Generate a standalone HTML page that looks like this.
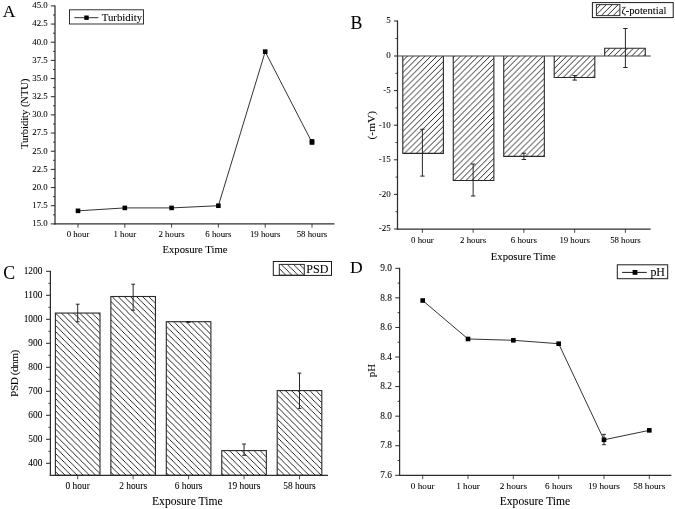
<!DOCTYPE html>
<html><head><meta charset="utf-8"><title>Figure</title>
<style>
html,body{margin:0;padding:0;background:#fff;}
body{width:675px;height:509px;overflow:hidden;font-family:"Liberation Serif",serif;}
svg{display:block;will-change:transform;}
svg text{font-family:"Liberation Serif",serif;fill:#000;stroke:#000;stroke-width:0.07px;}
</style></head><body>
<svg width="675" height="509" viewBox="0 0 675 509">
<defs>
<pattern id="hf" patternUnits="userSpaceOnUse" width="5.9" height="5.9" x="3.3" y="0">
<path d="M-1,1 L1,-1 M-1,6.9 L6.9,-1 M4.9,6.9 L6.9,4.9" stroke="#000" stroke-width="0.85" fill="none"/>
</pattern>
<pattern id="hb" patternUnits="userSpaceOnUse" width="6.1" height="6.1" x="4.6" y="0">
<path d="M-1,-1 L7.1,7.1 M-1,5.1 L1,7.1 M5.1,-1 L7.1,1" stroke="#000" stroke-width="0.85" fill="none"/>
</pattern>
</defs>
<text x="2.80" y="17.00" font-size="17.6" text-anchor="start">A</text>
<line x1="55.00" y1="5.39" x2="55.00" y2="224.50" stroke="#2e2e2e" stroke-width="1.25"/>
<line x1="50.80" y1="223.90" x2="55.00" y2="223.90" stroke="#1c1c1c" stroke-width="0.95"/>
<text x="47.70" y="226.32" font-size="8.8" text-anchor="end">15.0</text>
<line x1="50.80" y1="205.73" x2="55.00" y2="205.73" stroke="#1c1c1c" stroke-width="0.95"/>
<text x="47.70" y="208.16" font-size="8.8" text-anchor="end">17.5</text>
<line x1="50.80" y1="187.56" x2="55.00" y2="187.56" stroke="#1c1c1c" stroke-width="0.95"/>
<text x="47.70" y="189.99" font-size="8.8" text-anchor="end">20.0</text>
<line x1="50.80" y1="169.40" x2="55.00" y2="169.40" stroke="#1c1c1c" stroke-width="0.95"/>
<text x="47.70" y="171.82" font-size="8.8" text-anchor="end">22.5</text>
<line x1="50.80" y1="151.23" x2="55.00" y2="151.23" stroke="#1c1c1c" stroke-width="0.95"/>
<text x="47.70" y="153.65" font-size="8.8" text-anchor="end">25.0</text>
<line x1="50.80" y1="133.06" x2="55.00" y2="133.06" stroke="#1c1c1c" stroke-width="0.95"/>
<text x="47.70" y="135.49" font-size="8.8" text-anchor="end">27.5</text>
<line x1="50.80" y1="114.89" x2="55.00" y2="114.89" stroke="#1c1c1c" stroke-width="0.95"/>
<text x="47.70" y="117.32" font-size="8.8" text-anchor="end">30.0</text>
<line x1="50.80" y1="96.73" x2="55.00" y2="96.73" stroke="#1c1c1c" stroke-width="0.95"/>
<text x="47.70" y="99.15" font-size="8.8" text-anchor="end">32.5</text>
<line x1="50.80" y1="78.56" x2="55.00" y2="78.56" stroke="#1c1c1c" stroke-width="0.95"/>
<text x="47.70" y="80.98" font-size="8.8" text-anchor="end">35.0</text>
<line x1="50.80" y1="60.39" x2="55.00" y2="60.39" stroke="#1c1c1c" stroke-width="0.95"/>
<text x="47.70" y="62.82" font-size="8.8" text-anchor="end">37.5</text>
<line x1="50.80" y1="42.22" x2="55.00" y2="42.22" stroke="#1c1c1c" stroke-width="0.95"/>
<text x="47.70" y="44.65" font-size="8.8" text-anchor="end">40.0</text>
<line x1="50.80" y1="24.06" x2="55.00" y2="24.06" stroke="#1c1c1c" stroke-width="0.95"/>
<text x="47.70" y="26.48" font-size="8.8" text-anchor="end">42.5</text>
<line x1="50.80" y1="5.89" x2="55.00" y2="5.89" stroke="#1c1c1c" stroke-width="0.95"/>
<text x="47.70" y="8.31" font-size="8.8" text-anchor="end">45.0</text>
<line x1="53.00" y1="214.82" x2="55.00" y2="214.82" stroke="#1c1c1c" stroke-width="0.85"/>
<line x1="53.00" y1="196.65" x2="55.00" y2="196.65" stroke="#1c1c1c" stroke-width="0.85"/>
<line x1="53.00" y1="178.48" x2="55.00" y2="178.48" stroke="#1c1c1c" stroke-width="0.85"/>
<line x1="53.00" y1="160.31" x2="55.00" y2="160.31" stroke="#1c1c1c" stroke-width="0.85"/>
<line x1="53.00" y1="142.15" x2="55.00" y2="142.15" stroke="#1c1c1c" stroke-width="0.85"/>
<line x1="53.00" y1="123.98" x2="55.00" y2="123.98" stroke="#1c1c1c" stroke-width="0.85"/>
<line x1="53.00" y1="105.81" x2="55.00" y2="105.81" stroke="#1c1c1c" stroke-width="0.85"/>
<line x1="53.00" y1="87.64" x2="55.00" y2="87.64" stroke="#1c1c1c" stroke-width="0.85"/>
<line x1="53.00" y1="69.48" x2="55.00" y2="69.48" stroke="#1c1c1c" stroke-width="0.85"/>
<line x1="53.00" y1="51.31" x2="55.00" y2="51.31" stroke="#1c1c1c" stroke-width="0.85"/>
<line x1="53.00" y1="33.14" x2="55.00" y2="33.14" stroke="#1c1c1c" stroke-width="0.85"/>
<line x1="53.00" y1="14.97" x2="55.00" y2="14.97" stroke="#1c1c1c" stroke-width="0.85"/>
<line x1="54.40" y1="223.90" x2="334.50" y2="223.90" stroke="#2e2e2e" stroke-width="1.25"/>
<line x1="78.00" y1="223.90" x2="78.00" y2="227.70" stroke="#1c1c1c" stroke-width="0.8"/>
<text x="78.00" y="237.10" font-size="8.8" text-anchor="middle">0 hour</text>
<line x1="124.80" y1="223.90" x2="124.80" y2="227.70" stroke="#1c1c1c" stroke-width="0.8"/>
<text x="124.80" y="237.10" font-size="8.8" text-anchor="middle">1 hour</text>
<line x1="171.60" y1="223.90" x2="171.60" y2="227.70" stroke="#1c1c1c" stroke-width="0.8"/>
<text x="171.60" y="237.10" font-size="8.8" text-anchor="middle">2 hours</text>
<line x1="218.40" y1="223.90" x2="218.40" y2="227.70" stroke="#1c1c1c" stroke-width="0.8"/>
<text x="218.40" y="237.10" font-size="8.8" text-anchor="middle">6 hours</text>
<line x1="265.20" y1="223.90" x2="265.20" y2="227.70" stroke="#1c1c1c" stroke-width="0.8"/>
<text x="265.20" y="237.10" font-size="8.8" text-anchor="middle">19 hours</text>
<line x1="312.00" y1="223.90" x2="312.00" y2="227.70" stroke="#1c1c1c" stroke-width="0.8"/>
<text x="312.00" y="237.10" font-size="8.8" text-anchor="middle">58 hours</text>
<text x="195.00" y="253.30" font-size="10.7" text-anchor="middle">Exposure Time</text>
<text x="28.10" y="113.80" font-size="10.5" text-anchor="middle" transform="rotate(-90 28.10 113.80)">Turbidity (NTU)</text>
<polyline points="78.00,210.82 124.80,207.91 171.60,207.91 218.40,205.73 265.20,51.67 312.00,142.51" fill="none" stroke="#1c1c1c" stroke-width="0.9"/>
<rect x="75.70" y="208.52" width="4.6" height="4.6" fill="#000"/>
<rect x="122.50" y="205.61" width="4.6" height="4.6" fill="#000"/>
<rect x="169.30" y="205.61" width="4.6" height="4.6" fill="#000"/>
<rect x="216.10" y="203.43" width="4.6" height="4.6" fill="#000"/>
<rect x="262.90" y="49.37" width="4.6" height="4.6" fill="#000"/>
<rect x="309.70" y="140.21" width="4.6" height="4.6" fill="#000"/>
<rect x="309.70" y="139.12" width="4.6" height="4.6" fill="#000"/>
<rect x="69.5" y="9.8" width="74" height="14.2" fill="#fff" stroke="#1c1c1c" stroke-width="0.9"/>
<line x1="74.30" y1="17.70" x2="98.30" y2="17.70" stroke="#1c1c1c" stroke-width="0.9"/>
<rect x="84.30" y="15.50" width="4.4" height="4.4" fill="#000"/>
<text x="101.70" y="21.10" font-size="10.8" text-anchor="start">Turbidity</text>
<text x="350.50" y="28.90" font-size="17.8" text-anchor="start">B</text>
<line x1="397.50" y1="20.50" x2="397.50" y2="229.60" stroke="#2e2e2e" stroke-width="1.25"/>
<line x1="394.00" y1="21.00" x2="397.50" y2="21.00" stroke="#1c1c1c" stroke-width="0.95"/>
<text x="390.70" y="23.49" font-size="9.0" text-anchor="end">5</text>
<line x1="394.00" y1="56.00" x2="397.50" y2="56.00" stroke="#1c1c1c" stroke-width="0.95"/>
<text x="390.70" y="58.49" font-size="9.0" text-anchor="end">0</text>
<line x1="394.00" y1="90.60" x2="397.50" y2="90.60" stroke="#1c1c1c" stroke-width="0.95"/>
<text x="390.70" y="93.09" font-size="9.0" text-anchor="end">-5</text>
<line x1="394.00" y1="125.20" x2="397.50" y2="125.20" stroke="#1c1c1c" stroke-width="0.95"/>
<text x="390.70" y="127.69" font-size="9.0" text-anchor="end">-10</text>
<line x1="394.00" y1="159.80" x2="397.50" y2="159.80" stroke="#1c1c1c" stroke-width="0.95"/>
<text x="390.70" y="162.29" font-size="9.0" text-anchor="end">-15</text>
<line x1="394.00" y1="194.40" x2="397.50" y2="194.40" stroke="#1c1c1c" stroke-width="0.95"/>
<text x="390.70" y="196.89" font-size="9.0" text-anchor="end">-20</text>
<line x1="394.00" y1="229.00" x2="397.50" y2="229.00" stroke="#1c1c1c" stroke-width="0.95"/>
<text x="390.70" y="231.49" font-size="9.0" text-anchor="end">-25</text>
<line x1="395.50" y1="38.50" x2="397.50" y2="38.50" stroke="#1c1c1c" stroke-width="0.85"/>
<line x1="395.50" y1="73.30" x2="397.50" y2="73.30" stroke="#1c1c1c" stroke-width="0.85"/>
<line x1="395.50" y1="107.90" x2="397.50" y2="107.90" stroke="#1c1c1c" stroke-width="0.85"/>
<line x1="395.50" y1="142.50" x2="397.50" y2="142.50" stroke="#1c1c1c" stroke-width="0.85"/>
<line x1="395.50" y1="177.10" x2="397.50" y2="177.10" stroke="#1c1c1c" stroke-width="0.85"/>
<line x1="395.50" y1="211.70" x2="397.50" y2="211.70" stroke="#1c1c1c" stroke-width="0.85"/>
<line x1="396.90" y1="229.00" x2="650.60" y2="229.00" stroke="#2e2e2e" stroke-width="1.25"/>
<line x1="422.40" y1="229.00" x2="422.40" y2="232.80" stroke="#1c1c1c" stroke-width="0.8"/>
<text x="422.40" y="242.80" font-size="8.8" text-anchor="middle">0 hour</text>
<line x1="473.15" y1="229.00" x2="473.15" y2="232.80" stroke="#1c1c1c" stroke-width="0.8"/>
<text x="473.15" y="242.80" font-size="8.8" text-anchor="middle">2 hours</text>
<line x1="523.90" y1="229.00" x2="523.90" y2="232.80" stroke="#1c1c1c" stroke-width="0.8"/>
<text x="523.90" y="242.80" font-size="8.8" text-anchor="middle">6 hours</text>
<line x1="574.65" y1="229.00" x2="574.65" y2="232.80" stroke="#1c1c1c" stroke-width="0.8"/>
<text x="574.65" y="242.80" font-size="8.8" text-anchor="middle">19 hours</text>
<line x1="625.40" y1="229.00" x2="625.40" y2="232.80" stroke="#1c1c1c" stroke-width="0.8"/>
<text x="625.40" y="242.80" font-size="8.8" text-anchor="middle">58 hours</text>
<text x="523.30" y="259.60" font-size="10.7" text-anchor="middle">Exposure Time</text>
<text x="374.60" y="125.20" font-size="11.4" text-anchor="middle" transform="rotate(-90 374.60 125.20)">(-mV)</text>
<rect x="402.80" y="56.00" width="40.60" height="97.36" fill="url(#hf)" stroke="none"/>
<path d="M402.80,56.00 V153.36 H443.40 V56.00" fill="none" stroke="#2a2a2a" stroke-width="1.1"/>
<rect x="453.27" y="56.00" width="40.60" height="124.56" fill="url(#hf)" stroke="none"/>
<path d="M453.27,56.00 V180.56 H493.87 V56.00" fill="none" stroke="#2a2a2a" stroke-width="1.1"/>
<rect x="503.74" y="56.00" width="40.60" height="100.34" fill="url(#hf)" stroke="none"/>
<path d="M503.74,56.00 V156.34 H544.34 V56.00" fill="none" stroke="#2a2a2a" stroke-width="1.1"/>
<rect x="554.21" y="56.00" width="40.60" height="21.45" fill="url(#hf)" stroke="none"/>
<path d="M554.21,56.00 V77.45 H594.81 V56.00" fill="none" stroke="#2a2a2a" stroke-width="1.1"/>
<rect x="604.68" y="48.30" width="40.60" height="7.70" fill="url(#hf)" stroke="none"/>
<path d="M604.68,56.00 V48.30 H645.28 V56.00" fill="none" stroke="#2a2a2a" stroke-width="1.1"/>
<line x1="397.50" y1="56.00" x2="650.80" y2="56.00" stroke="#444" stroke-width="1.2"/>
<line x1="422.40" y1="129.30" x2="422.40" y2="176.10" stroke="#1c1c1c" stroke-width="0.95"/>
<line x1="420.20" y1="129.30" x2="424.60" y2="129.30" stroke="#1c1c1c" stroke-width="0.95"/>
<line x1="420.20" y1="176.10" x2="424.60" y2="176.10" stroke="#1c1c1c" stroke-width="0.95"/>
<line x1="473.15" y1="164.00" x2="473.15" y2="196.00" stroke="#1c1c1c" stroke-width="0.95"/>
<line x1="470.95" y1="164.00" x2="475.35" y2="164.00" stroke="#1c1c1c" stroke-width="0.95"/>
<line x1="470.95" y1="196.00" x2="475.35" y2="196.00" stroke="#1c1c1c" stroke-width="0.95"/>
<line x1="523.90" y1="153.20" x2="523.90" y2="159.50" stroke="#1c1c1c" stroke-width="0.95"/>
<line x1="521.70" y1="153.20" x2="526.10" y2="153.20" stroke="#1c1c1c" stroke-width="0.95"/>
<line x1="521.70" y1="159.50" x2="526.10" y2="159.50" stroke="#1c1c1c" stroke-width="0.95"/>
<line x1="574.65" y1="75.60" x2="574.65" y2="80.10" stroke="#1c1c1c" stroke-width="0.95"/>
<line x1="572.45" y1="75.60" x2="576.85" y2="75.60" stroke="#1c1c1c" stroke-width="0.95"/>
<line x1="572.45" y1="80.10" x2="576.85" y2="80.10" stroke="#1c1c1c" stroke-width="0.95"/>
<line x1="625.40" y1="28.50" x2="625.40" y2="67.50" stroke="#1c1c1c" stroke-width="0.95"/>
<line x1="623.20" y1="28.50" x2="627.60" y2="28.50" stroke="#1c1c1c" stroke-width="0.95"/>
<line x1="623.20" y1="67.50" x2="627.60" y2="67.50" stroke="#1c1c1c" stroke-width="0.95"/>
<rect x="592.4" y="2.6" width="80.8" height="15" fill="#fff" stroke="#1c1c1c" stroke-width="1"/>
<rect x="596.4" y="4.6" width="23.5" height="11" fill="url(#hf)" stroke="#333" stroke-width="1"/>
<text x="621.40" y="13.90" font-size="10.6" text-anchor="start">ζ-potential</text>
<text x="3.30" y="279.30" font-size="17.8" text-anchor="start">C</text>
<line x1="50.40" y1="270.80" x2="50.40" y2="475.90" stroke="#2e2e2e" stroke-width="1.25"/>
<line x1="46.00" y1="463.30" x2="50.40" y2="463.30" stroke="#1c1c1c" stroke-width="0.95"/>
<text x="42.40" y="465.93" font-size="9.4" text-anchor="end">400</text>
<line x1="46.00" y1="439.30" x2="50.40" y2="439.30" stroke="#1c1c1c" stroke-width="0.95"/>
<text x="42.40" y="441.93" font-size="9.4" text-anchor="end">500</text>
<line x1="46.00" y1="415.30" x2="50.40" y2="415.30" stroke="#1c1c1c" stroke-width="0.95"/>
<text x="42.40" y="417.93" font-size="9.4" text-anchor="end">600</text>
<line x1="46.00" y1="391.30" x2="50.40" y2="391.30" stroke="#1c1c1c" stroke-width="0.95"/>
<text x="42.40" y="393.93" font-size="9.4" text-anchor="end">700</text>
<line x1="46.00" y1="367.30" x2="50.40" y2="367.30" stroke="#1c1c1c" stroke-width="0.95"/>
<text x="42.40" y="369.93" font-size="9.4" text-anchor="end">800</text>
<line x1="46.00" y1="343.30" x2="50.40" y2="343.30" stroke="#1c1c1c" stroke-width="0.95"/>
<text x="42.40" y="345.93" font-size="9.4" text-anchor="end">900</text>
<line x1="46.00" y1="319.30" x2="50.40" y2="319.30" stroke="#1c1c1c" stroke-width="0.95"/>
<text x="42.40" y="321.93" font-size="9.4" text-anchor="end">1000</text>
<line x1="46.00" y1="295.30" x2="50.40" y2="295.30" stroke="#1c1c1c" stroke-width="0.95"/>
<text x="42.40" y="297.93" font-size="9.4" text-anchor="end">1100</text>
<line x1="46.00" y1="271.30" x2="50.40" y2="271.30" stroke="#1c1c1c" stroke-width="0.95"/>
<text x="42.40" y="273.93" font-size="9.4" text-anchor="end">1200</text>
<line x1="48.40" y1="451.30" x2="50.40" y2="451.30" stroke="#1c1c1c" stroke-width="0.85"/>
<line x1="48.40" y1="427.30" x2="50.40" y2="427.30" stroke="#1c1c1c" stroke-width="0.85"/>
<line x1="48.40" y1="403.30" x2="50.40" y2="403.30" stroke="#1c1c1c" stroke-width="0.85"/>
<line x1="48.40" y1="379.30" x2="50.40" y2="379.30" stroke="#1c1c1c" stroke-width="0.85"/>
<line x1="48.40" y1="355.30" x2="50.40" y2="355.30" stroke="#1c1c1c" stroke-width="0.85"/>
<line x1="48.40" y1="331.30" x2="50.40" y2="331.30" stroke="#1c1c1c" stroke-width="0.85"/>
<line x1="48.40" y1="307.30" x2="50.40" y2="307.30" stroke="#1c1c1c" stroke-width="0.85"/>
<line x1="48.40" y1="283.30" x2="50.40" y2="283.30" stroke="#1c1c1c" stroke-width="0.85"/>
<line x1="49.80" y1="475.30" x2="328.00" y2="475.30" stroke="#2e2e2e" stroke-width="1.25"/>
<line x1="77.70" y1="475.30" x2="77.70" y2="479.30" stroke="#1c1c1c" stroke-width="0.8"/>
<text x="77.70" y="489.20" font-size="9.4" text-anchor="middle">0 hour</text>
<line x1="133.15" y1="475.30" x2="133.15" y2="479.30" stroke="#1c1c1c" stroke-width="0.8"/>
<text x="133.15" y="489.20" font-size="9.4" text-anchor="middle">2 hours</text>
<line x1="188.60" y1="475.30" x2="188.60" y2="479.30" stroke="#1c1c1c" stroke-width="0.8"/>
<text x="188.60" y="489.20" font-size="9.4" text-anchor="middle">6 hours</text>
<line x1="244.05" y1="475.30" x2="244.05" y2="479.30" stroke="#1c1c1c" stroke-width="0.8"/>
<text x="244.05" y="489.20" font-size="9.4" text-anchor="middle">19 hours</text>
<line x1="299.50" y1="475.30" x2="299.50" y2="479.30" stroke="#1c1c1c" stroke-width="0.8"/>
<text x="299.50" y="489.20" font-size="9.4" text-anchor="middle">58 hours</text>
<text x="187.30" y="504.80" font-size="11.6" text-anchor="middle">Exposure Time</text>
<text x="18.20" y="373.30" font-size="11.3" text-anchor="middle" transform="rotate(-90 18.20 373.30)" textLength="47.2" lengthAdjust="spacing">PSD (dnm)</text>
<rect x="55.40" y="313.06" width="44.60" height="162.24" fill="url(#hb)" stroke="#2a2a2a" stroke-width="1.1"/>
<rect x="110.85" y="296.50" width="44.60" height="178.80" fill="url(#hb)" stroke="#2a2a2a" stroke-width="1.1"/>
<rect x="166.30" y="321.70" width="44.60" height="153.60" fill="url(#hb)" stroke="#2a2a2a" stroke-width="1.1"/>
<rect x="221.75" y="450.58" width="44.60" height="24.72" fill="url(#hb)" stroke="#2a2a2a" stroke-width="1.1"/>
<rect x="277.20" y="390.58" width="44.60" height="84.72" fill="url(#hb)" stroke="#2a2a2a" stroke-width="1.1"/>
<line x1="77.70" y1="304.20" x2="77.70" y2="321.80" stroke="#1c1c1c" stroke-width="0.95"/>
<line x1="75.80" y1="304.20" x2="79.60" y2="304.20" stroke="#1c1c1c" stroke-width="0.95"/>
<line x1="75.80" y1="321.80" x2="79.60" y2="321.80" stroke="#1c1c1c" stroke-width="0.95"/>
<line x1="133.15" y1="284.20" x2="133.15" y2="310.20" stroke="#1c1c1c" stroke-width="0.95"/>
<line x1="131.25" y1="284.20" x2="135.05" y2="284.20" stroke="#1c1c1c" stroke-width="0.95"/>
<line x1="131.25" y1="310.20" x2="135.05" y2="310.20" stroke="#1c1c1c" stroke-width="0.95"/>
<line x1="188.60" y1="321.60" x2="188.60" y2="322.40" stroke="#1c1c1c" stroke-width="0.95"/>
<line x1="186.70" y1="321.60" x2="190.50" y2="321.60" stroke="#1c1c1c" stroke-width="0.95"/>
<line x1="186.70" y1="322.40" x2="190.50" y2="322.40" stroke="#1c1c1c" stroke-width="0.95"/>
<line x1="244.05" y1="444.00" x2="244.05" y2="455.30" stroke="#1c1c1c" stroke-width="0.95"/>
<line x1="242.15" y1="444.00" x2="245.95" y2="444.00" stroke="#1c1c1c" stroke-width="0.95"/>
<line x1="242.15" y1="455.30" x2="245.95" y2="455.30" stroke="#1c1c1c" stroke-width="0.95"/>
<line x1="299.50" y1="373.10" x2="299.50" y2="408.40" stroke="#1c1c1c" stroke-width="0.95"/>
<line x1="297.60" y1="373.10" x2="301.40" y2="373.10" stroke="#1c1c1c" stroke-width="0.95"/>
<line x1="297.60" y1="408.40" x2="301.40" y2="408.40" stroke="#1c1c1c" stroke-width="0.95"/>
<rect x="273.3" y="261.5" width="58.2" height="13.9" fill="#fff" stroke="#1c1c1c" stroke-width="1"/>
<rect x="279.3" y="264.4" width="25" height="10.8" fill="url(#hb)" stroke="#2a2a2a" stroke-width="1"/>
<text x="306.30" y="273.20" font-size="12" text-anchor="start">PSD</text>
<text x="350.00" y="272.60" font-size="17.6" text-anchor="start">D</text>
<line x1="399.60" y1="267.80" x2="399.60" y2="475.90" stroke="#2e2e2e" stroke-width="1.25"/>
<line x1="395.30" y1="475.30" x2="399.60" y2="475.30" stroke="#1c1c1c" stroke-width="0.95"/>
<text x="391.90" y="477.93" font-size="9.4" text-anchor="end">7.6</text>
<line x1="395.30" y1="445.73" x2="399.60" y2="445.73" stroke="#1c1c1c" stroke-width="0.95"/>
<text x="391.90" y="448.36" font-size="9.4" text-anchor="end">7.8</text>
<line x1="395.30" y1="416.16" x2="399.60" y2="416.16" stroke="#1c1c1c" stroke-width="0.95"/>
<text x="391.90" y="418.78" font-size="9.4" text-anchor="end">8.0</text>
<line x1="395.30" y1="386.58" x2="399.60" y2="386.58" stroke="#1c1c1c" stroke-width="0.95"/>
<text x="391.90" y="389.21" font-size="9.4" text-anchor="end">8.2</text>
<line x1="395.30" y1="357.01" x2="399.60" y2="357.01" stroke="#1c1c1c" stroke-width="0.95"/>
<text x="391.90" y="359.64" font-size="9.4" text-anchor="end">8.4</text>
<line x1="395.30" y1="327.44" x2="399.60" y2="327.44" stroke="#1c1c1c" stroke-width="0.95"/>
<text x="391.90" y="330.07" font-size="9.4" text-anchor="end">8.6</text>
<line x1="395.30" y1="297.87" x2="399.60" y2="297.87" stroke="#1c1c1c" stroke-width="0.95"/>
<text x="391.90" y="300.50" font-size="9.4" text-anchor="end">8.8</text>
<line x1="395.30" y1="268.30" x2="399.60" y2="268.30" stroke="#1c1c1c" stroke-width="0.95"/>
<text x="391.90" y="270.92" font-size="9.4" text-anchor="end">9.0</text>
<line x1="397.60" y1="460.51" x2="399.60" y2="460.51" stroke="#1c1c1c" stroke-width="0.85"/>
<line x1="397.60" y1="430.94" x2="399.60" y2="430.94" stroke="#1c1c1c" stroke-width="0.85"/>
<line x1="397.60" y1="401.37" x2="399.60" y2="401.37" stroke="#1c1c1c" stroke-width="0.85"/>
<line x1="397.60" y1="371.80" x2="399.60" y2="371.80" stroke="#1c1c1c" stroke-width="0.85"/>
<line x1="397.60" y1="342.23" x2="399.60" y2="342.23" stroke="#1c1c1c" stroke-width="0.85"/>
<line x1="397.60" y1="312.65" x2="399.60" y2="312.65" stroke="#1c1c1c" stroke-width="0.85"/>
<line x1="397.60" y1="283.08" x2="399.60" y2="283.08" stroke="#1c1c1c" stroke-width="0.85"/>
<line x1="399.00" y1="475.30" x2="671.40" y2="475.30" stroke="#2e2e2e" stroke-width="1.25"/>
<line x1="422.70" y1="475.30" x2="422.70" y2="479.10" stroke="#1c1c1c" stroke-width="0.8"/>
<text x="422.70" y="488.90" font-size="9.2" text-anchor="middle">0 hour</text>
<line x1="468.02" y1="475.30" x2="468.02" y2="479.10" stroke="#1c1c1c" stroke-width="0.8"/>
<text x="468.02" y="488.90" font-size="9.2" text-anchor="middle">1 hour</text>
<line x1="513.34" y1="475.30" x2="513.34" y2="479.10" stroke="#1c1c1c" stroke-width="0.8"/>
<text x="513.34" y="488.90" font-size="9.2" text-anchor="middle">2 hours</text>
<line x1="558.66" y1="475.30" x2="558.66" y2="479.10" stroke="#1c1c1c" stroke-width="0.8"/>
<text x="558.66" y="488.90" font-size="9.2" text-anchor="middle">6 hours</text>
<line x1="603.98" y1="475.30" x2="603.98" y2="479.10" stroke="#1c1c1c" stroke-width="0.8"/>
<text x="603.98" y="488.90" font-size="9.2" text-anchor="middle">19 hours</text>
<line x1="649.30" y1="475.30" x2="649.30" y2="479.10" stroke="#1c1c1c" stroke-width="0.8"/>
<text x="649.30" y="488.90" font-size="9.2" text-anchor="middle">58 hours</text>
<text x="535.00" y="504.80" font-size="11.6" text-anchor="middle">Exposure Time</text>
<text x="374.80" y="370.60" font-size="10.8" text-anchor="middle" transform="rotate(-90 374.80 370.60)">pH</text>
<polyline points="422.70,300.53 468.02,338.97 513.34,340.30 558.66,343.70 603.98,439.81 649.30,430.35" fill="none" stroke="#1c1c1c" stroke-width="0.9"/>
<line x1="603.98" y1="434.40" x2="603.98" y2="444.70" stroke="#1c1c1c" stroke-width="0.95"/>
<line x1="602.08" y1="434.40" x2="605.88" y2="434.40" stroke="#1c1c1c" stroke-width="0.95"/>
<line x1="602.08" y1="444.70" x2="605.88" y2="444.70" stroke="#1c1c1c" stroke-width="0.95"/>
<rect x="420.40" y="298.23" width="4.6" height="4.6" fill="#000"/>
<rect x="465.72" y="336.67" width="4.6" height="4.6" fill="#000"/>
<rect x="511.04" y="338.00" width="4.6" height="4.6" fill="#000"/>
<rect x="556.36" y="341.40" width="4.6" height="4.6" fill="#000"/>
<rect x="601.68" y="437.51" width="4.6" height="4.6" fill="#000"/>
<rect x="647.00" y="428.05" width="4.6" height="4.6" fill="#000"/>
<rect x="617.3" y="264.8" width="50.4" height="13.9" fill="#fff" stroke="#1c1c1c" stroke-width="1"/>
<line x1="622.10" y1="272.40" x2="646.80" y2="272.40" stroke="#1c1c1c" stroke-width="1.0"/>
<rect x="632.60" y="270.00" width="4.8" height="4.8" fill="#000"/>
<text x="650.40" y="275.80" font-size="11.9" text-anchor="start">pH</text>
</svg>
</body></html>
